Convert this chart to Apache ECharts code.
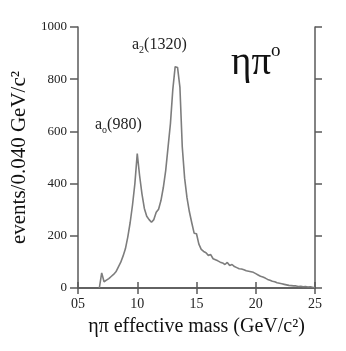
<!DOCTYPE html>
<html>
<head>
<meta charset="utf-8">
<script src="https://cdn.jsdelivr.net/npm/echarts@6/dist/echarts.min.js"></script>
<style>
  html, body { margin: 0; padding: 0; background: #fff; }
  #chart { width: 346px; height: 351px; }
</style>
</head>
<body>
<div id="chart"></div>
<script>
// eta-pi effective mass spectrum
const masses = [
  0.68, 0.70, 0.72, 0.74, 0.76, 0.78, 0.80, 0.82, 0.84, 0.86,
  0.88, 0.90, 0.92, 0.94, 0.96, 0.98, 1.00, 1.02, 1.04, 1.06,
  1.08, 1.10, 1.12, 1.14, 1.16, 1.18, 1.20, 1.22, 1.24, 1.26,
  1.28, 1.30, 1.32, 1.34, 1.36, 1.38, 1.40, 1.42, 1.44, 1.46,
  1.48, 1.50, 1.52, 1.54, 1.56, 1.58, 1.60, 1.62, 1.64, 1.66,
  1.68, 1.70, 1.72, 1.74, 1.76, 1.78, 1.80, 1.82, 1.84, 1.86,
  1.88, 1.90, 1.92, 1.94, 1.96, 1.98, 2.00, 2.02, 2.04, 2.06,
  2.08, 2.10, 2.12, 2.14, 2.16, 2.18, 2.20, 2.22, 2.24, 2.26,
  2.28, 2.30, 2.32, 2.34, 2.36, 2.38, 2.40, 2.42, 2.44, 2.46,
  2.48, 2.50
];
const events = [
  0, 58, 24, 30, 36, 44, 52, 62, 80, 98,
  122, 150, 195, 250, 318, 400, 515, 430, 360, 305,
  275, 262, 252, 262, 290, 302, 335, 385, 450, 540,
  630, 760, 848, 845, 770, 540, 420, 345, 292, 250,
  210, 208, 168, 148, 140, 135, 125, 128, 112, 108,
  104, 99, 96, 90, 98, 86, 90, 82, 78, 74,
  73, 70, 66, 64, 62, 60, 55, 50, 45, 42,
  38, 33, 30, 26, 24, 20, 18, 16, 14, 12,
  10, 9, 8, 8, 6, 7, 5, 6, 4, 5,
  3, 2
];
const xTicks = [0.5, 1.0, 1.5, 2.0, 2.5];
const xTickLabels = ['05', '10', '15', '20', '25'];
const yTickLabels = ['0', '200', '400', '600', '800', '1000'];

const serif = '"Liberation Serif", "DejaVu Serif", serif';
const axisColor = '#5a5a5a';

const chart = echarts.init(document.getElementById('chart'));

const frameAxis = {
  axisLine: { show: true, lineStyle: { color: axisColor, width: 1.5 } },
  axisTick: { show: true, inside: false, lineStyle: { color: axisColor, width: 1.5 } },
  splitLine: { show: false }
};

const option = {
  animation: false,
  grid: { left: 78, right: 31, top: 27, bottom: 63 },
  xAxis: [
    Object.assign({}, frameAxis, {
      type: 'value', position: 'bottom', min: 0.5, max: 2.5, interval: 0.5,
      axisTick: Object.assign({}, frameAxis.axisTick, { length: 6 }),
      axisLabel: {
        margin: 9, color: '#222', fontFamily: serif, fontSize: 14,
        formatter: v => xTickLabels[xTicks.findIndex(t => Math.abs(t - v) < 1e-6)] || ''
      },
      name: 'ηπ effective mass (GeV/c²)',
      nameLocation: 'middle', nameGap: 29,
      nameTextStyle: { color: '#111', fontFamily: serif, fontSize: 20 }
    }),
    Object.assign({}, frameAxis, {
      type: 'value', position: 'top', min: 0.5, max: 2.5, interval: 0.5,
      axisTick: Object.assign({}, frameAxis.axisTick, { length: 6 }),
      axisLabel: { show: false }
    })
  ],
  yAxis: [
    Object.assign({}, frameAxis, {
      type: 'value', position: 'left', min: 0, max: 1000, interval: 200,
      axisTick: Object.assign({}, frameAxis.axisTick, { length: 8 }),
      axisLabel: {
        margin: 11, color: '#222', fontFamily: serif, fontSize: 13,
        formatter: (v) => yTickLabels[Math.round(v / 200)]
      },
      name: 'events/0.040 GeV/c²',
      nameLocation: 'middle', nameGap: 45,
      nameTextStyle: { color: '#111', fontFamily: serif, fontSize: 21 }
    }),
    Object.assign({}, frameAxis, {
      type: 'value', position: 'right', min: 0, max: 1000, interval: 200,
      axisTick: Object.assign({}, frameAxis.axisTick, { length: 7 }),
      axisLabel: { show: false }
    })
  ],
  series: [{
    type: 'line',
    xAxisIndex: 0,
    yAxisIndex: 0,
    data: masses.map((m, i) => [m, events[i]]),
    symbol: 'none',
    lineStyle: { color: '#7d7d7d', width: 1.6 }
  }],
  graphic: [
    {
      type: 'text', left: 132, top: 37,
      style: {
        text: '{m|a}{s|2}{m|(1320)}',
        rich: {
          m: { fontFamily: serif, fontSize: 16, lineHeight: 20, fill: '#222' },
          s: { fontFamily: serif, fontSize: 10, lineHeight: 10, verticalAlign: 'bottom', fill: '#222' }
        }
      }
    },
    {
      type: 'text', left: 95, top: 117,
      style: {
        text: '{m|a}{s|o}{m|(980)}',
        rich: {
          m: { fontFamily: serif, fontSize: 16, lineHeight: 20, fill: '#222' },
          s: { fontFamily: serif, fontSize: 10, lineHeight: 10, verticalAlign: 'bottom', fill: '#222' }
        }
      }
    },
    {
      type: 'text', left: 231, top: 42,
      style: {
        text: '{m|ηπ}{s|o}',
        rich: {
          m: { fontFamily: serif, fontSize: 39, lineHeight: 44, fill: '#111' },
          s: { fontFamily: serif, fontSize: 19, lineHeight: 19, verticalAlign: 'top', fill: '#111' }
        }
      }
    }
  ]
};

chart.setOption(option);
</script>
</body>
</html>
